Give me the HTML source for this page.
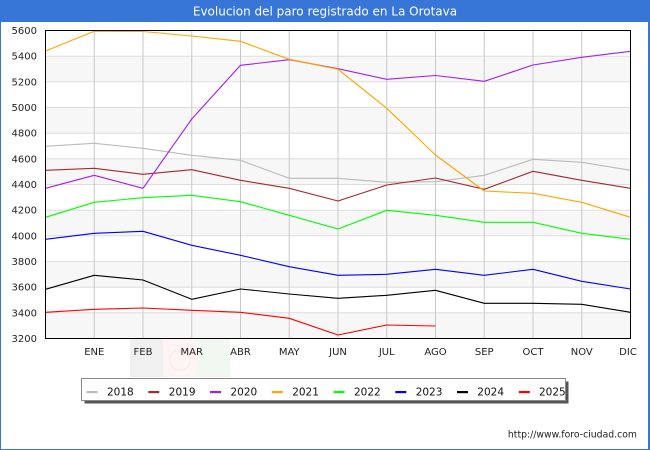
<!DOCTYPE html>
<html>
<head>
<meta charset="utf-8">
<style>
html,body{margin:0;padding:0;background:#fff;}
svg{display:block;}
text{font-family:"DejaVu Sans","Liberation Sans",sans-serif;}
</style>
</head>
<body>
<svg width="650" height="450" viewBox="0 0 650 450" xmlns="http://www.w3.org/2000/svg">
  <!-- outer frame -->
  <rect x="0" y="0" width="650" height="450" fill="#ffffff"/>
  <rect x="0.5" y="0.5" width="648" height="449" fill="none" stroke="#3775d7" stroke-width="1"/>
  <rect x="648" y="0" width="2" height="450" fill="#3775d7"/>
  <!-- title bar -->
  <rect x="0" y="0" width="650" height="22" fill="#3775d7"/>
  <text x="325" y="15.5" font-size="12" fill="#ffffff" text-anchor="middle">Evolucion del paro registrado en La Orotava</text>

  <!-- plot bands -->
  <rect x="45.5" y="30.5" width="585" height="308" fill="#ffffff"/>
  <g fill="#f7f7f7">
    <rect x="45.5" y="56.2" width="585" height="25.7"/>
    <rect x="45.5" y="107.5" width="585" height="25.7"/>
    <rect x="45.5" y="158.8" width="585" height="25.7"/>
    <rect x="45.5" y="210.2" width="585" height="25.7"/>
    <rect x="45.5" y="261.5" width="585" height="25.7"/>
    <rect x="45.5" y="312.8" width="585" height="25.7"/>
  </g>
  <!-- horizontal grid -->
  <g stroke="#dddddd" stroke-width="1">
    <line x1="45.5" y1="56.2" x2="630.5" y2="56.2"/>
    <line x1="45.5" y1="81.8" x2="630.5" y2="81.8"/>
    <line x1="45.5" y1="107.5" x2="630.5" y2="107.5"/>
    <line x1="45.5" y1="133.2" x2="630.5" y2="133.2"/>
    <line x1="45.5" y1="158.8" x2="630.5" y2="158.8"/>
    <line x1="45.5" y1="184.5" x2="630.5" y2="184.5"/>
    <line x1="45.5" y1="210.2" x2="630.5" y2="210.2"/>
    <line x1="45.5" y1="235.8" x2="630.5" y2="235.8"/>
    <line x1="45.5" y1="261.5" x2="630.5" y2="261.5"/>
    <line x1="45.5" y1="287.2" x2="630.5" y2="287.2"/>
    <line x1="45.5" y1="312.8" x2="630.5" y2="312.8"/>
  </g>
  <!-- vertical grid -->
  <g stroke="#c8c8c8" stroke-width="1">
    <line x1="94.25" y1="30.5" x2="94.25" y2="338.5"/>
    <line x1="143" y1="30.5" x2="143" y2="338.5"/>
    <line x1="191.75" y1="30.5" x2="191.75" y2="338.5"/>
    <line x1="240.5" y1="30.5" x2="240.5" y2="338.5"/>
    <line x1="289.25" y1="30.5" x2="289.25" y2="338.5"/>
    <line x1="338" y1="30.5" x2="338" y2="338.5"/>
    <line x1="386.75" y1="30.5" x2="386.75" y2="338.5"/>
    <line x1="435.5" y1="30.5" x2="435.5" y2="338.5"/>
    <line x1="484.25" y1="30.5" x2="484.25" y2="338.5"/>
    <line x1="533" y1="30.5" x2="533" y2="338.5"/>
    <line x1="581.75" y1="30.5" x2="581.75" y2="338.5"/>
  </g>

  <!-- watermark flag -->
  <rect x="130" y="339" width="33" height="38" fill="#f0f0f0"/>
  <rect x="163" y="339" width="35" height="38" fill="#fdf4f4"/>
  <rect x="198" y="339" width="32" height="38" fill="#f1f8f1"/>
  <circle cx="180" cy="360" r="10" fill="none" stroke="#f9ecec" stroke-width="1.5"/>

  <!-- series -->
  <g fill="none" stroke-width="1.1" stroke-linejoin="round">
    <polyline stroke="#bbbbbb" points="45.5,146.3 94.25,143.3 143,148.3 191.75,155.3 240.5,160.3 289.25,178.3 338,178.3 386.75,182.3 435.5,181.7 484.25,175.3 533,159.3 581.75,162.3 630.5,170.3"/>
    <polyline stroke="#a52a2a" points="45.5,170.3 94.25,168.3 143,174.3 191.75,169.7 240.5,180.3 289.25,188.3 338,201 386.75,185 435.5,178 484.25,189.3 533,171.3 581.75,180.3 630.5,188.3"/>
    <polyline stroke="#a020f0" points="45.5,188.3 94.25,175.3 143,188.3 191.75,119 240.5,65.3 289.25,59.7 338,68.7 386.75,79.3 435.5,75.5 484.25,81.3 533,65 581.75,57.3 630.5,51.3"/>
    <polyline stroke="#ffa500" points="45.5,51 94.25,31.3 143,31.5 191.75,36 240.5,41.3 289.25,59.3 338,69.3 386.75,108.3 435.5,155 484.25,191 533,193.3 581.75,202.3 630.5,217.3"/>
    <polyline stroke="#00ff00" points="45.5,217.3 94.25,202.3 143,197.7 191.75,195.3 240.5,201.7 289.25,215.3 338,229 386.75,210.3 435.5,215.3 484.25,222.3 533,222.3 581.75,233.3 630.5,239.3"/>
    <polyline stroke="#0000ff" points="45.5,239.3 94.25,233.3 143,231.3 191.75,245.3 240.5,255.3 289.25,266.7 338,275.3 386.75,274.3 435.5,269.3 484.25,275.3 533,269.3 581.75,281.3 630.5,289"/>
    <polyline stroke="#000000" points="45.5,289.3 94.25,275.3 143,280 191.75,299.3 240.5,289 289.25,294 338,298.3 386.75,295.3 435.5,290.3 484.25,303.3 533,303.3 581.75,304.3 630.5,312.3"/>
    <polyline stroke="#ff0000" points="45.5,312.3 94.25,309.3 143,308 191.75,310.3 240.5,312.3 289.25,318.3 338,335 386.75,325 435.5,326"/>
  </g>

  <!-- plot border -->
  <rect x="45.5" y="30.5" width="585" height="308" fill="none" stroke="#000000" stroke-width="1"/>

  <!-- y labels -->
  <g font-size="10" fill="#222222" text-anchor="end">
    <text x="37" y="34">5600</text>
    <text x="37" y="59.7">5400</text>
    <text x="37" y="85.3">5200</text>
    <text x="37" y="111">5000</text>
    <text x="37" y="136.7">4800</text>
    <text x="37" y="162.3">4600</text>
    <text x="37" y="188">4400</text>
    <text x="37" y="213.7">4200</text>
    <text x="37" y="239.3">4000</text>
    <text x="37" y="265">3800</text>
    <text x="37" y="290.7">3600</text>
    <text x="37" y="316.3">3400</text>
    <text x="37" y="342">3200</text>
  </g>

  <!-- x labels -->
  <g font-size="10" fill="#222222" text-anchor="middle">
    <text x="94.25" y="355">ENE</text>
    <text x="143" y="355">FEB</text>
    <text x="191.75" y="355">MAR</text>
    <text x="240.5" y="355">ABR</text>
    <text x="289.25" y="355">MAY</text>
    <text x="338" y="355">JUN</text>
    <text x="386.75" y="355">JUL</text>
    <text x="435.5" y="355">AGO</text>
    <text x="484.25" y="355">SEP</text>
    <text x="533" y="355">OCT</text>
    <text x="581.75" y="355">NOV</text>
    <text x="628" y="355">DIC</text>
  </g>

  <!-- legend -->
  <rect x="84.5" y="381.5" width="484" height="22" fill="#555555"/>
  <rect x="81.5" y="378.5" width="484" height="22" fill="#ffffff" stroke="#888888" stroke-width="1"/>
  <g>
    <rect x="86.6" y="391" width="11" height="2.2" fill="#bbbbbb"/>
    <rect x="148.3" y="391" width="11" height="2.2" fill="#a52a2a"/>
    <rect x="210" y="391" width="11" height="2.2" fill="#a020f0"/>
    <rect x="271.8" y="391" width="11" height="2.2" fill="#ffa500"/>
    <rect x="333.6" y="391" width="11" height="2.2" fill="#00ff00"/>
    <rect x="395.3" y="391" width="11" height="2.2" fill="#0000ff"/>
    <rect x="457" y="391" width="11" height="2.2" fill="#000000"/>
    <rect x="518.8" y="391" width="11" height="2.2" fill="#ff0000"/>
  </g>
  <g font-size="10.5" fill="#111111">
    <text x="107" y="395.5">2018</text>
    <text x="168.8" y="395.5">2019</text>
    <text x="230.5" y="395.5">2020</text>
    <text x="292.2" y="395.5">2021</text>
    <text x="354" y="395.5">2022</text>
    <text x="415.7" y="395.5">2023</text>
    <text x="477.3" y="395.5">2024</text>
    <text x="539" y="395.5">2025</text>
  </g>

  <!-- footer -->
  <text x="637" y="437.5" font-size="9.3" fill="#222222" text-anchor="end">http://www.foro-ciudad.com</text>
</svg>
</body>
</html>
